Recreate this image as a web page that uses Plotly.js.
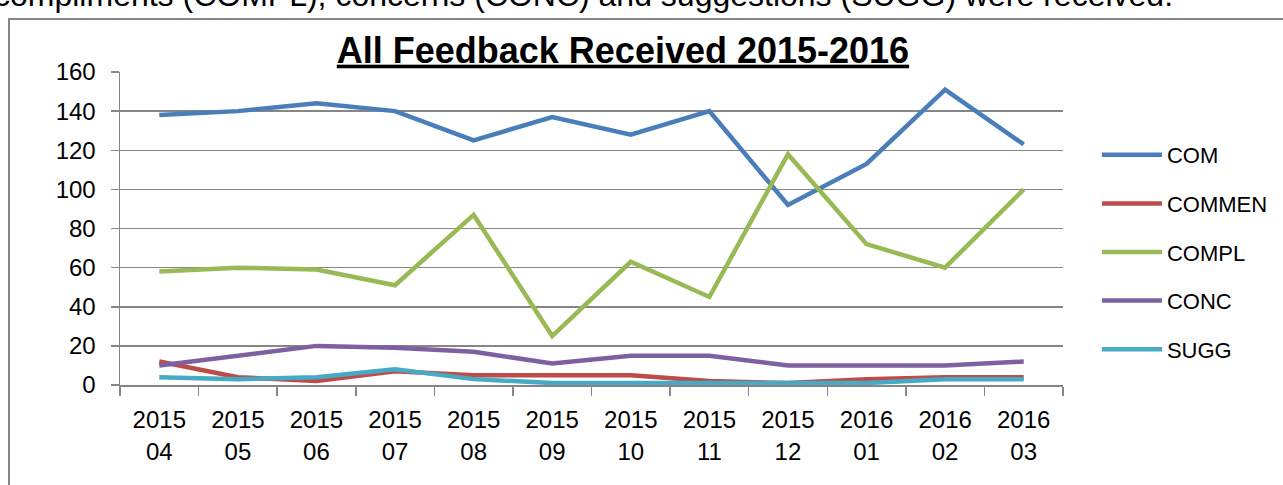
<!DOCTYPE html>
<html>
<head>
<meta charset="utf-8">
<script src="https://cdn.plot.ly/plotly-3.0.1.min.js"></script>
<style>
  body { margin: 0; background: #fff; overflow: hidden; width: 1283px; height: 485px; position: relative; }
  #caption { position: absolute; top: -23px; left: -6px; white-space: nowrap;
             font: 32px 'Liberation Sans', sans-serif; color: #000; }
  #plot { position: absolute; left: 8px; top: 18px; width: 1300px; height: 470px;
          border: 2px solid #868686; }
</style>
</head>
<body>
<div id="caption">compliments (COMPL), concerns (CONC) and suggestions (SUGG) were received.</div>
<div id="plot"></div>
<script>
var months = ['2015<br>04', '2015<br>05', '2015<br>06', '2015<br>07', '2015<br>08', '2015<br>09',
              '2015<br>10', '2015<br>11', '2015<br>12', '2016<br>01', '2016<br>02', '2016<br>03'];

var com    = [138, 140, 144, 140, 125, 137, 128, 140, 92, 113, 151, 123];
var commen = [12, 4, 2, 7, 5, 5, 5, 2, 1, 3, 4, 4];
var compl  = [58, 60, 59, 51, 87, 25, 63, 45, 118, 72, 60, 100];
var conc   = [10, 15, 20, 19, 17, 11, 15, 15, 10, 10, 10, 12];
var sugg   = [4, 3, 4, 8, 3, 1, 1, 1, 1, 1, 3, 3];

var names  = ['COM', 'COMMEN', 'COMPL', 'CONC', 'SUGG'];
var colors = ['#4a7ebb', '#be4b48', '#98b954', '#7d60a0', '#46aac5'];
var series = [com, commen, compl, conc, sugg];

var traces = series.map(function (vals, i) {
  return {
    x: months,
    y: vals,
    name: names[i],
    legendgroup: names[i],
    type: 'scatter',
    mode: 'lines',
    line: { color: colors[i], width: 4.5 }
  };
});

var layout = {
  width: 1300,
  height: 470,
  margin: { l: 110, r: 247, t: 52, b: 105 },
  paper_bgcolor: '#fff',
  plot_bgcolor: '#fff',
  font: { family: 'Liberation Sans, Arial, sans-serif', size: 24, color: '#000' },
  title: {
    text: '<b>All Feedback Received 2015-2016</b>',
    font: { size: 36, lineposition: 'under' },
    xref: 'container', x: 0.4715,
    yref: 'container', y: 0.936, yanchor: 'middle'
  },
  xaxis: {
    type: 'category',
    range: [-0.5, 11.5],
    tickson: 'boundaries',
    ticks: 'outside',
    ticklen: 9,
    tickcolor: '#868686',
    tickwidth: 1.5,
    showline: true,
    linecolor: '#868686',
    linewidth: 1.5,
    showgrid: false,
    fixedrange: true,
    tickfont: { size: 24 },
    ticklabelstandoff: 13
  },
  yaxis: {
    range: [0, 160],
    dtick: 20,
    ticks: 'outside',
    ticklen: 8,
    tickcolor: '#868686',
    tickwidth: 1.5,
    showline: true,
    linecolor: '#868686',
    linewidth: 1.5,
    gridcolor: '#868686',
    gridwidth: 1.5,
    zeroline: false,
    fixedrange: true,
    tickfont: { size: 24 },
    ticklabelstandoff: 10
  },
  legend: {
    x: 1.036, xanchor: 'left',
    y: 0.425, yanchor: 'middle',
    font: { size: 22 },
    tracegroupgap: 17,
    traceorder: 'grouped',
    itemwidth: 60
  },
  showlegend: true
};

Plotly.newPlot('plot', traces, layout, { displayModeBar: false, staticPlot: true });
</script>
</body>
</html>
